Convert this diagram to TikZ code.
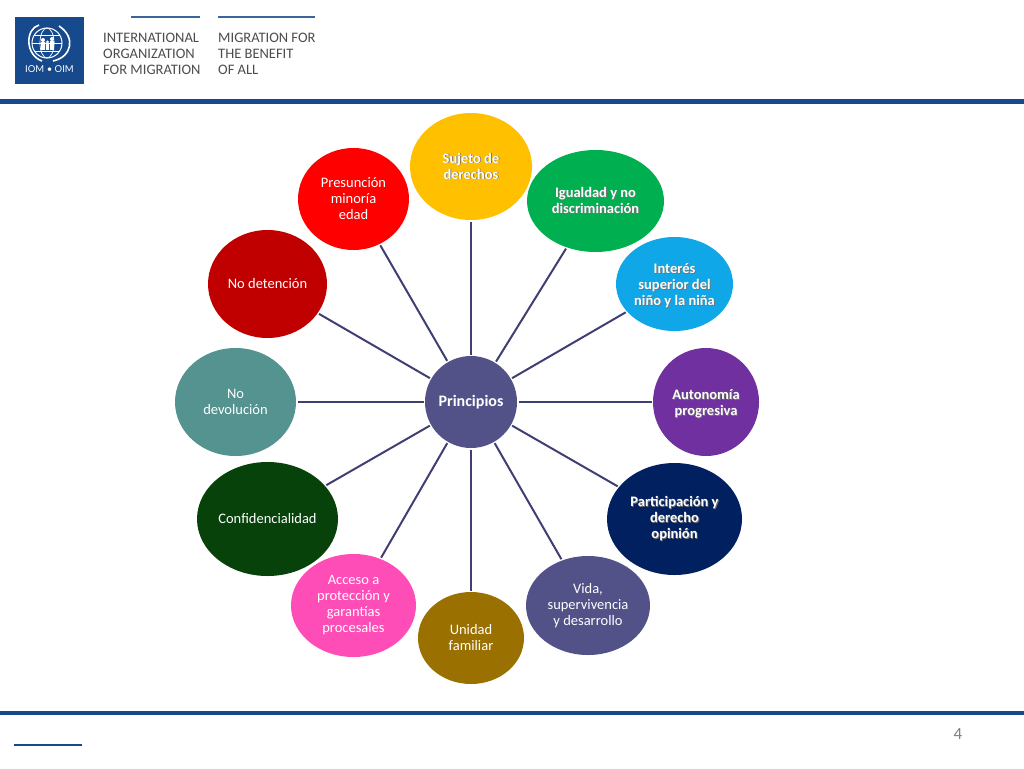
\documentclass[tikz,border=0pt]{standalone}
\usepackage{fontspec}
\setmainfont{Carlito}
\newfontfamily\headfont{Lato}
\usetikzlibrary{arrows.meta, positioning, shapes.geometric}
\definecolor{iomblue}{HTML}{174A8C}
\definecolor{spokeblue}{HTML}{3F3F73}
\definecolor{centerblue}{HTML}{525288}
\newcommand{\shtext}[1]{\makebox[0pt][l]{\kern0.8pt\raisebox{-0.8pt}{\textcolor{black!55}{#1}}}#1}

\begin{document}
\begin{tikzpicture}[
    x=1pt, y=-1pt,
    font=\fontsize{14.5}{16}\selectfont,
    petal/.style={ellipse, inner sep=0pt, outer sep=1.5pt, align=center, text=white},
    boldpetal/.style={petal, font=\fontsize{14.5}{16}\selectfont\bfseries},
    spoke/.style={line width=2pt, spokeblue},
    rulebar/.style={line width=4.5pt, iomblue},
    headline/.style={line width=1.4pt, iomblue!85},
    headtext/.style={anchor=west, inner sep=0pt, align=left, text=black!70, font=\fontsize{14.5}{16}\selectfont},
    globe/.style={white, line width=0.7pt}
]
\useasboundingbox (0,0) rectangle (1024,768);

% ===== HEADER =====
\node[fill=iomblue, minimum width=69pt, minimum height=67pt, inner sep=0pt] (logo) at (49.5,50.5) {};
\node[text=white, inner sep=0pt, font=\headfont\fontsize{9.5}{10}\selectfont] (logotext) at (49.5,69) {IOM • OIM};

% Globe inside the logo
\draw[globe, line width=1pt] (47,43) circle (15);
\draw[globe] (47,43) ellipse (7 and 15);
\draw[globe] (32,43) -- (62,43);
\draw[globe] (34,35) -- (60,35);
\draw[globe] (34,51) -- (60,51);
\draw[globe, line width=1.6pt] (39,25) .. controls (25,29) and (25,55) .. (42,61);
\draw[globe, line width=1.6pt] (59,26) .. controls (76,37) and (72,57) .. (53,61);
\fill[white] (41,50) rectangle (45,42) (46,50) rectangle (49,44) (50,50) rectangle (54,41);
\fill[white] (43,40) circle (2) (47.5,42) circle (1.6) (52,39) circle (2);

% Organization and motto
\coordinate (hl1a) at (131,17);
\coordinate (hl1b) at (200,17);
\coordinate (hl2a) at (218,17);
\coordinate (hl2b) at (315,17);
\draw[headline] (hl1a) -- (hl1b);
\draw[headline] (hl2a) -- (hl2b);
\node[headtext] (org) at (103,53.5) {INTERNATIONAL\\ORGANIZATION\\FOR MIGRATION};
\node[headtext] (motto) at (218,53.5) {MIGRATION FOR\\THE BENEFIT\\OF ALL};

% Rules of the slide
\coordinate (topa) at (0,101.5);
\coordinate (topb) at (1024,101.5);
\coordinate (bota) at (0,713);
\coordinate (botb) at (1024,713);
\coordinate (shorta) at (14,745);
\coordinate (shortb) at (82,745);
\draw[rulebar] (topa) -- (topb);
\draw[rulebar] (bota) -- (botb);
\draw[line width=1.2pt, iomblue] (shorta) -- (shortb);
\node[text=black!50, inner sep=0pt, font=\fontsize{17}{18}\selectfont] (pagenum) at (958,734) {4};

% ===== CENTER =====
\node[circle, fill=centerblue, inner sep=0pt, outer sep=1.5pt, minimum size=92pt, text=white, font=\fontsize{16}{18}\selectfont\bfseries] (ppl) at (471,402) {Principios};

% ===== RIGHT HALF =====
\node[boldpetal, fill={rgb,255:red,255;green,192;blue,0}, minimum width=122pt, minimum height=107pt] (sujeto) at (471,166.5) {\shtext{Sujeto de}\\\shtext{derechos}};
\node[boldpetal, fill={rgb,255:red,0;green,176;blue,80}, minimum width=137pt, minimum height=102pt] (igualdad) at (595.5,201) {\shtext{Igualdad y no}\\\shtext{discriminación}};
\node[boldpetal, fill={rgb,255:red,16;green,167;blue,232}, minimum width=117pt, minimum height=94pt] (interes) at (674.5,284) {\rule{0pt}{14pt}\shtext{Interés}\\\shtext{superior del}\\\shtext{niño y la niña}};
\node[boldpetal, fill={rgb,255:red,112;green,48;blue,160}, minimum width=106pt, minimum height=108pt] (autonomia) at (706,402) {\rule{0pt}{14pt}\shtext{Autonomía}\\\shtext{progresiva}};
\node[boldpetal, fill={rgb,255:red,0;green,32;blue,96}, minimum width=135pt, minimum height=112pt] (particip) at (674.5,519) {\shtext{Participación y}\\\shtext{derecho}\\\shtext{opinión}};
\node[petal, fill=centerblue, minimum width=124pt, minimum height=99pt] (vida) at (588,605.5) {Vida,\\supervivencia\\y desarrollo};

% ===== LEFT HALF =====
\node[petal, fill={rgb,255:red,154;green,112;blue,0}, minimum width=106pt, minimum height=92pt] (unidad) at (471,638) {Unidad\\familiar};
\node[petal, fill={rgb,255:red,255;green,77;blue,184}, minimum width=125pt, minimum height=103pt] (acceso) at (353.5,605.5) {Acceso a\\protección y\\garantías\\procesales};
\node[petal, fill={rgb,255:red,6;green,66;blue,10}, minimum width=141pt, minimum height=114pt] (confid) at (267.5,519) {Confidencialidad};
\node[petal, fill={rgb,255:red,84;green,147;blue,143}, minimum width=121pt, minimum height=108pt] (devol) at (235.5,402) {No\\devolución};
\node[petal, fill={rgb,255:red,192;green,0;blue,0}, minimum width=119pt, minimum height=108pt] (deten) at (267.5,284) {No detención};
\node[petal, fill={rgb,255:red,255;green,0;blue,0}, minimum width=111pt, minimum height=102pt] (presun) at (353.5,199) {Presunción\\minoría\\edad};

% ===== CONNECTIONS =====
\draw[spoke] (ppl) -- (sujeto);
\draw[spoke] (ppl) -- (igualdad);
\draw[spoke] (ppl) -- (interes);
\draw[spoke] (ppl) -- (autonomia);
\draw[spoke] (ppl) -- (particip);
\draw[spoke] (ppl) -- (vida);
\draw[spoke] (ppl) -- (unidad);
\draw[spoke] (ppl) -- (acceso);
\draw[spoke] (ppl) -- (confid);
\draw[spoke] (ppl) -- (devol);
\draw[spoke] (ppl) -- (deten);
\draw[spoke] (ppl) -- (presun);

\end{tikzpicture}
\end{document}
